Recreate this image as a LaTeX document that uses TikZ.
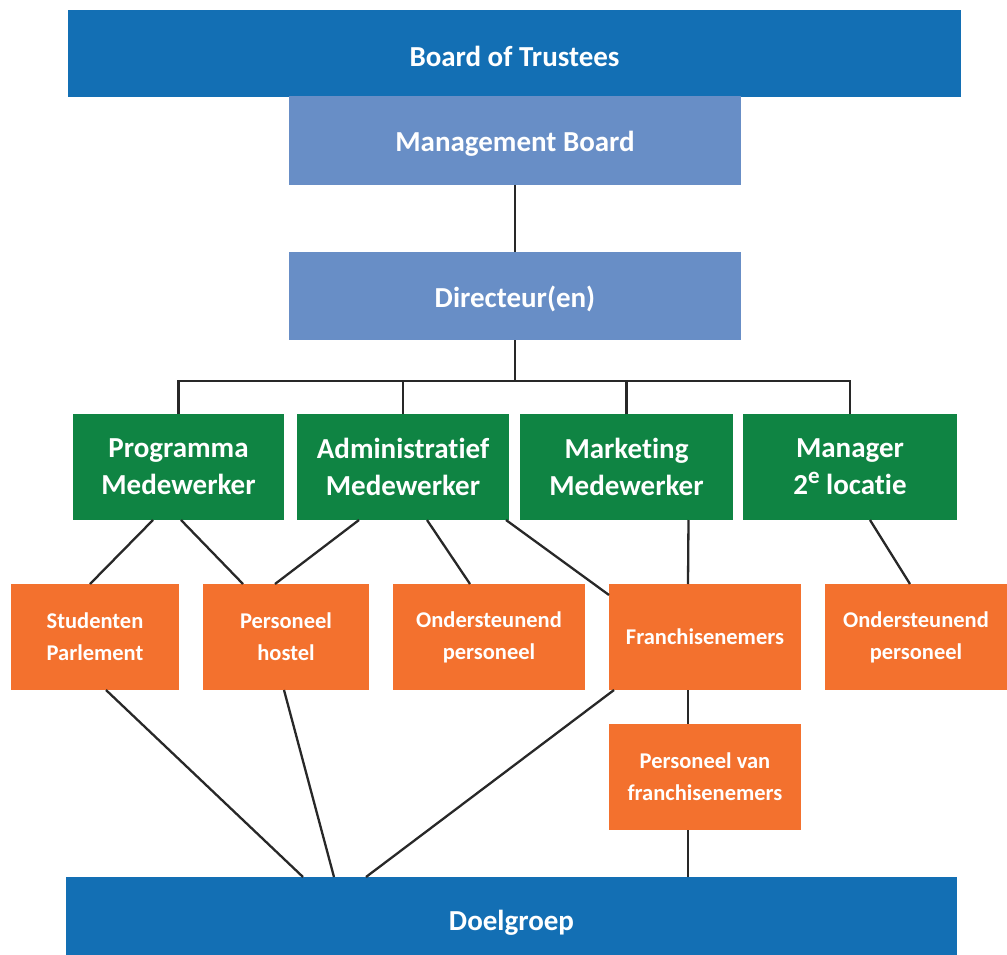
\documentclass[tikz,border=0pt]{standalone}
\usepackage{fontspec}
\setmainfont{Carlito}[Ligatures=CommonOff]
\definecolor{dblue}{RGB}{19,111,180}
\definecolor{lblue}{RGB}{104,142,198}
\definecolor{mgreen}{RGB}{15,132,67}
\definecolor{morange}{RGB}{243,113,46}
\definecolor{lgray}{RGB}{40,40,40}
\tikzset{
  box/.style={rectangle, inner sep=0pt, outer sep=0pt, text=white, align=center, font=\bfseries},
  bigbox/.style={box, font=\fontsize{29}{35}\selectfont\bfseries},
  greenbox/.style={box, fill=mgreen, minimum height=106pt, font=\fontsize{29}{37}\selectfont\bfseries},
  orangebox/.style={box, fill=morange, minimum height=106pt, font=\fontsize{22.5}{32}\selectfont\bfseries},
  conn/.style={draw=lgray, line width=2.3pt}
}
\begin{document}
\begin{tikzpicture}[x=1pt,y=-1pt]
\useasboundingbox (0,0) rectangle (1007,955);
% top
\node[bigbox, fill=dblue, minimum width=893pt, minimum height=87pt] (bot) at (514.5,53.5) {};
\node at ([yshift=-2.5pt]bot.center) [box, font=\fontsize{29}{35}\selectfont\bfseries] (bott) {Board of Trustees};
\node[bigbox, fill=lblue, minimum width=452pt, minimum height=89pt] (mb) at (515,140.5) {};
\node at ([yshift=-3pt]mb.center) [box, font=\fontsize{29}{35}\selectfont\bfseries] (mbt) {Management Board};
\node[bigbox, fill=lblue, minimum width=452pt, minimum height=88pt] (dir) at (515,296) {};
\node at ([yshift=-3pt]dir.center) [box, font=\fontsize{29}{35}\selectfont\bfseries] (dirt) {Directeur(en)};
% green
\node[greenbox, minimum width=211pt] (g1) at (178.5,467) {Programma\\Medewerker};
\node[greenbox, minimum width=212pt] (g2) at (403,467) {Administratief\\Medewerker};
\node[greenbox, minimum width=213pt] (g3) at (626.5,467) {Marketing\\Medewerker};
\node[greenbox, minimum width=214pt] (g4) at (850,467) {Manager\\2\raisebox{0.4em}{\fontsize{23}{23}\selectfont e} locatie};
% orange
\node[orangebox, minimum width=168pt] (o1) at (95,637) {Studenten\\Parlement};
\node[orangebox, minimum width=166pt] (o2) at (286,637) {Personeel\\hostel};
\node[orangebox, minimum width=192pt] (o3) at (489,637) {Ondersteunend\\personeel};
\node[orangebox, minimum width=192pt] (o4) at (705,637) {Franchisenemers};
\node[orangebox, minimum width=182pt] (o5) at (916,637) {Ondersteunend\\personeel};
\node[orangebox, minimum width=192pt] (pvf) at (705,777) {Personeel van\\franchisenemers};
% bottom
\node[bigbox, fill=dblue, minimum width=891pt, minimum height=78pt] (doel) at (511.5,916) {};
\node at ([yshift=-7pt]doel.center) [box, font=\fontsize{29}{35}\selectfont\bfseries] (doelt) {Doelgroep};
% connectors
\coordinate (bus) at (0,381);
\draw[conn] (mb.south) -- (dir.north);
\draw[conn] (dir.south) -- (dir.south |- bus);
\draw[conn] (g1.north) -- (g1.north |- bus) -- (g4.north |- bus) -- (g4.north);
\draw[conn] (g2.north) -- (g2.north |- bus);
\draw[conn] (g3.north) -- (g3.north |- bus);
\draw[conn] ([xshift=-25.5pt]g1.south) -- ([xshift=-5pt]o1.north);
\draw[conn] ([xshift=2.5pt]g1.south) -- ([xshift=-43pt]o2.north);
\draw[conn] ([xshift=-44pt]g2.south) -- ([xshift=-11pt]o2.north);
\draw[conn] ([xshift=24pt]g2.south) -- ([xshift=-19pt]o3.north);
\draw[conn] ([xshift=103pt]g2.south) -- ([yshift=-11pt]o4.north west);
\draw[conn] ([xshift=62pt]g3.south) -- ([xshift=-17pt]o4.north);
\draw[conn] ([xshift=20pt]g4.south) -- ([xshift=-6pt]o5.north);
\draw[conn] ([xshift=11pt]o1.south) -- ([xshift=-208.5pt]doel.north);
\draw[conn] ([xshift=-2pt]o2.south) -- ([xshift=-177.5pt]doel.north);
\draw[conn] ([xshift=5pt]o4.south west) -- ([xshift=-145.5pt]doel.north);
\draw[conn] ([xshift=-17pt]o4.south) -- ([xshift=-17pt]pvf.north);
\draw[conn] ([xshift=-17pt]pvf.south) -- ([xshift=176.5pt]doel.north);
\end{tikzpicture}
\end{document}
